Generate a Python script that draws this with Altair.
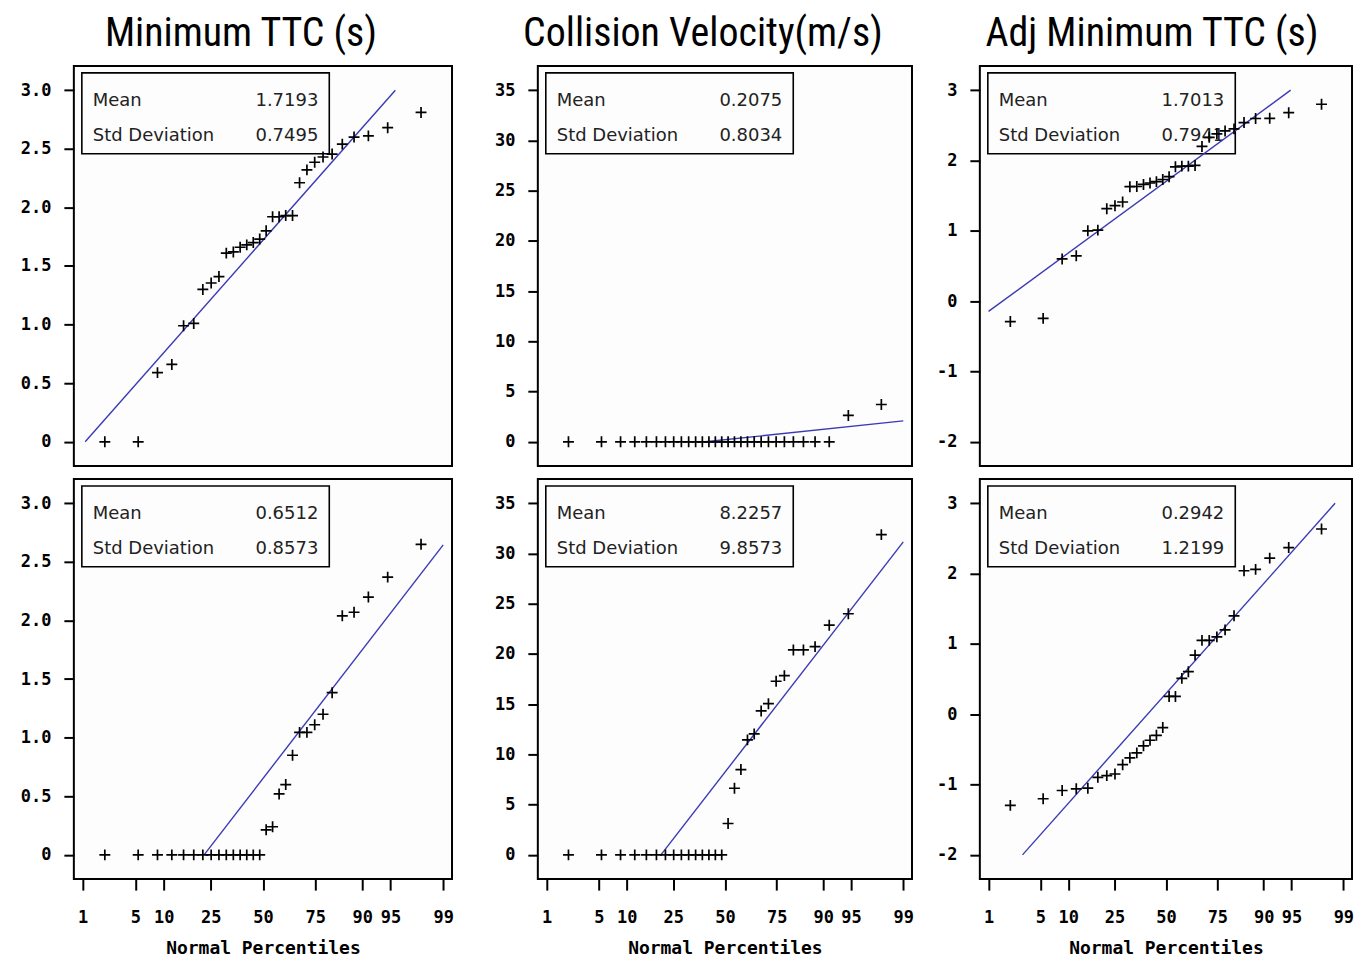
import altair as alt
import pandas as pd
from statistics import NormalDist

# ---------------- data ----------------
col_titles = ["Minimum TTC (s)", "Collision Velocity(m/s)", "Adj Minimum TTC (s)"]
percentile_ticks = [1, 5, 10, 25, 50, 75, 90, 95, 99]

mttc_top = [0.0, 0.0, 0.59, 0.66, 0.99, 1.01, 1.30, 1.355, 1.41, 1.61, 1.62, 1.66,
            1.68, 1.70, 1.73, 1.80, 1.92, 1.92, 1.93, 1.93, 2.21, 2.32, 2.385, 2.43,
            2.455, 2.54, 2.60, 2.61, 2.68, 2.81]
cv_top = [0.0, 0.0, 0.0, 0.0, 0.0, 0.0, 0.0, 0.0, 0.0, 0.0, 0.0, 0.0, 0.0, 0.0,
          0.0, 0.0, 0.0, 0.0, 0.0, 0.0, 0.0, 0.0, 0.0, 0.0, 0.0, 0.0, 0.0, 0.0,
          2.62, 3.71]
adj_top = [-0.29, -0.245, 0.60, 0.645, 1.0, 1.01, 1.315, 1.357, 1.41, 1.628, 1.63,
           1.66, 1.68, 1.70, 1.73, 1.77, 1.91, 1.92, 1.92, 1.93, 2.20, 2.33, 2.38,
           2.42, 2.45, 2.54, 2.597, 2.60, 2.68, 2.80]
mttc_bot = [0.0, 0.0, 0.0, 0.0, 0.0, 0.0, 0.0, 0.0, 0.0, 0.0, 0.0, 0.0, 0.0, 0.0,
            0.0, 0.214, 0.24, 0.52, 0.60, 0.85, 1.045, 1.045, 1.11, 1.20, 1.384,
            2.04, 2.07, 2.20, 2.37, 2.65]
cv_bot = [0.0, 0.0, 0.0, 0.0, 0.0, 0.0, 0.0, 0.0, 0.0, 0.0, 0.0, 0.0, 0.0, 0.0,
          0.0, 3.12, 6.63, 8.49, 11.45, 12.04, 14.33, 15.05, 17.28, 17.84, 20.4,
          20.4, 20.73, 22.86, 24.0, 31.88]
adj_bot = [-1.296, -1.202, -1.085, -1.061, -1.052, -0.897, -0.873, -0.85, -0.718,
           -0.62, -0.55, -0.45, -0.37, -0.30, -0.19, 0.253, 0.253, 0.51, 0.605,
           0.84, 1.05, 1.05, 1.10, 1.20, 1.40, 2.04, 2.06, 2.22, 2.37, 2.634]

means = [1.7193, 0.2075, 1.7013, 0.6512, 8.2257, 0.2942]
sds = [0.7495, 0.8034, 0.7941, 0.8573, 9.8573, 1.2199]
mean_labels = ["1.7193", "0.2075", "1.7013", "0.6512", "8.2257", "0.2942"]
sd_labels = ["0.7495", "0.8034", "0.7941", "0.8573", "9.8573", "1.2199"]

yticks_c1 = [0, 0.5, 1.0, 1.5, 2.0, 2.5, 3.0]
yticks_c2 = [0, 5, 10, 15, 20, 25, 30, 35]
yticks_c3 = [-2, -1, 0, 1, 2, 3]

# ---------------- styling ----------------
MONO = "DejaVu Sans Mono"
SANS = "DejaVu Sans"
TITLE_FONT = "Liberation Sans Narrow, Roboto Condensed, Roboto"
LINE_COLOR = "#3a3ab4"
PANEL_H = 401
nd = NormalDist()
z_ticks = [nd.inv_cdf(p / 100) for p in percentile_ticks]
z_end = nd.inv_cdf(0.99)

label_expr = ""
for zv, p in zip(z_ticks, percentile_ticks):
    label_expr += f"abs(datum.value - ({zv:.5f})) < 0.01 ? '{p}' : "
label_expr += "''"


def panel(values, mean, sd, mlab, slab, yticks, width, extent, ylab_expr,
          bottom, title=None, title_dx=0):
    n = len(values)
    zs = [nd.inv_cdf((i + 1 - 0.375) / (n + 0.25)) for i in range(n)]
    pts = pd.DataFrame({"z": zs, "v": sorted(values)})
    lo, hi = min(yticks), max(yticks)
    z_lo = max(-z_end, (lo - mean) / sd)
    z_hi = min(z_end, (hi - mean) / sd)
    fit = pd.DataFrame({"z": [z_lo, z_hi], "v": [mean + sd * z_lo, mean + sd * z_hi]})
    pad = 0.069 * (hi - lo)

    xscale = alt.Scale(domain=[-2.44, 2.44], nice=False, zero=False)
    yscale = alt.Scale(domain=[lo - pad, hi + pad], nice=False, zero=False)
    if bottom:
        xaxis = alt.Axis(values=z_ticks, labelExpr=label_expr, title="Normal Percentiles",
                         labelFont=MONO, labelFontWeight="bold", labelFontSize=17,
                         labelColor="black", titleFont=MONO, titleFontWeight="bold",
                         titleFontSize=18, titleColor="black", titlePadding=15,
                         labelPadding=19, tickSize=11, tickWidth=2, tickColor="black",
                         domain=False, grid=False, labelOverlap=False, labelFlush=False)
    else:
        xaxis = None
    yaxis = alt.Axis(values=yticks, labelExpr=ylab_expr, title=None, labelFont=MONO,
                     labelFontWeight="bold", labelFontSize=17, labelColor="black",
                     tickSize=10, tickWidth=2, tickColor="black", labelPadding=13,
                     domain=False, grid=False, minExtent=extent, maxExtent=extent)

    x_enc = alt.X("z:Q", scale=xscale, axis=xaxis)
    y_enc = alt.Y("v:Q", scale=yscale, axis=yaxis)

    line = alt.Chart(fit).mark_line(color=LINE_COLOR, strokeWidth=1.4).encode(x=x_enc, y=y_enc)
    points = alt.Chart(pts).mark_point(shape="M-1,0L1,0M0,-1L0,1", size=120, filled=False,
                                       color="black", strokeWidth=1.7, opacity=1).encode(
        x=x_enc, y=y_enc)

    one = pd.DataFrame({"k": [0]})
    box = alt.Chart(one).mark_rect(fill="transparent", stroke="black", strokeWidth=1.6).encode(
        x=alt.value(8), x2=alt.value(256), y=alt.value(7), y2=alt.value(88))
    t_style = dict(font=SANS, fontSize=18, color="#222", baseline="middle")
    t1 = alt.Chart(one).mark_text(align="left", text="Mean", **t_style).encode(
        x=alt.value(19), y=alt.value(35))
    t2 = alt.Chart(one).mark_text(align="left", text="Std Deviation", **t_style).encode(
        x=alt.value(19), y=alt.value(70))
    t3 = alt.Chart(one).mark_text(align="right", text=mlab, **t_style).encode(
        x=alt.value(245), y=alt.value(35))
    t4 = alt.Chart(one).mark_text(align="right", text=slab, **t_style).encode(
        x=alt.value(245), y=alt.value(70))

    ch = alt.layer(box, t1, t2, t3, t4, line, points).properties(width=width, height=PANEL_H)
    if title:
        ch = ch.properties(title=alt.TitleParams(title, font=TITLE_FONT, fontSize=40,
                                                 fontWeight="normal", anchor="middle",
                                                 color="black", dx=title_dx, offset=12))
    return ch


expr_c1 = "datum.value == 0 ? '0' : format(datum.value, '.1f')"
expr_int = "'' + datum.value"

col_specs = [
    (mttc_top, mttc_bot, yticks_c1, 379, 65, expr_c1, -22),
    (cv_top, cv_bot, yticks_c2, 375, 74, expr_int, -22),
    (adj_top, adj_bot, yticks_c3, 373, 56, expr_int, -14),
]

cols = []
for c, (top_v, bot_v, yt, w, ext, ex, tdx) in enumerate(col_specs):
    top = panel(top_v, means[c], sds[c], mean_labels[c], sd_labels[c], yt, w, ext, ex,
                False, col_titles[c], tdx)
    bot = panel(bot_v, means[c + 3], sds[c + 3], mean_labels[c + 3], sd_labels[c + 3],
                yt, w, ext, ex, True)
    cols.append(alt.vconcat(top, bot, spacing=11))

chart = alt.hconcat(*cols, spacing=8).properties(
    padding={"left": 0, "top": 4, "right": 4, "bottom": 0},
    background="white",
).configure_view(stroke="black", strokeWidth=2, fill="#fdfdfd")

chart.save("out.html", embed_options={"renderer": "svg", "actions": False})
